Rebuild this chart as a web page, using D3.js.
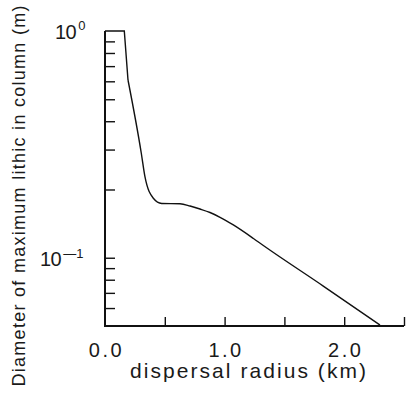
<!DOCTYPE html>
<html>
<head>
<meta charset="utf-8">
<script src="https://cdn.jsdelivr.net/npm/d3@7"></script>
<style>
  html, body { margin: 0; padding: 0; background: #fff; }
  svg text { font-family: "Liberation Sans", Arial, Helvetica, sans-serif; fill: #1a1a1a; }
</style>
</head>
<body>
<svg id="chart" width="406" height="401"></svg>
<script>
// Data
// plateau at 1.0, sharp drop to a kink, then smooth decline
const topDistKm = [0, 0.1614, 0.1923];
const topDiamM  = [1.0, 1.0, 0.608];
const distKm = [0.1923, 0.3035, 0.334, 0.404, 0.474, 0.627, 0.711, 0.794, 0.878, 0.962, 1.073, 1.241, 1.324, 1.825, 2.299];
const diamM  = [0.608, 0.289, 0.2277, 0.183, 0.1736, 0.1730, 0.1691, 0.164, 0.1583, 0.1508, 0.1395, 0.1216, 0.1132, 0.0750, 0.0505];
const xTicks = [0.5, 1.0, 1.5, 2.0, 2.5];
const xTickLabels = [{v: 0.0, t: "0.0"}, {v: 1.0, t: "1.0"}, {v: 2.0, t: "2.0"}];
const yTicks = [0.9, 0.8, 0.7, 0.6, 0.5, 0.4, 0.3, 0.2, 0.1, 0.09, 0.08, 0.07, 0.06];
const yTickLabels = [{v: 1, base: "10", exp: "0", left: 55, dy: 7.7}, {v: 0.1, base: "10", exp: "\u20141", left: 40, dy: 8.7}];
const xTitle = "dispersal radius (km)";
const yTitle = "Diameter of maximum lithic in column (m)";

const svg = d3.select("#chart");
const x = d3.scaleLinear().domain([0, 2.5]).range([105, 404]);
const y = d3.scaleLog().domain([0.05, 1]).range([326, 31]);

// y axis (ticks pointing inward)
const yAxis = d3.axisRight(y).tickValues(yTicks).tickSize(10).tickFormat("");
const gy = svg.append("g").attr("transform", `translate(${x(0)},0)`).call(yAxis);
gy.select(".domain").remove();
gy.selectAll(".tick line").attr("stroke", "#111").attr("stroke-width", 1.4);
svg.append("line").attr("x1", x(0)).attr("x2", x(0)).attr("y1", y(1)).attr("y2", y(0.05))
  .attr("stroke", "#111").attr("stroke-width", 2);

// x axis (ticks pointing up)
const xAxis = d3.axisTop(x).tickValues(xTicks).tickSize(9).tickFormat("");
const gx = svg.append("g").attr("transform", `translate(0,${y(0.05)})`).call(xAxis);
gx.select(".domain").remove();
gx.selectAll(".tick line").attr("stroke", "#111").attr("stroke-width", 1.4);
svg.append("line").attr("x1", x(0) - 1).attr("x2", x(2.5)).attr("y1", y(0.05)).attr("y2", y(0.05))
  .attr("stroke", "#111").attr("stroke-width", 2);

// x tick labels
svg.selectAll("text.xl").data(xTickLabels).join("text")
  .attr("class", "xl")
  .attr("x", d => x(d.v) + 1.5)
  .attr("y", 356.5)
  .attr("text-anchor", "middle")
  .style("font-size", "20px")
  .style("letter-spacing", "2.5px")
  .text(d => d.t);

// y tick labels with superscript
yTickLabels.forEach(d => {
  const t = svg.append("text")
    .attr("x", d.left)
    .attr("y", y(d.v) + d.dy)
    .style("font-size", "20px");
  t.append("tspan").text(d.base).style("letter-spacing", "-0.5px");
  t.append("tspan").attr("dx", 2).attr("dy", -8.7).style("font-size", "13px").text(d.exp);
});

// line: straight top part + smooth remainder
const topLine = d3.line().x((d, i) => x(topDistKm[i])).y(d => y(d)).curve(d3.curveLinear);
const mainLine = d3.line().x((d, i) => x(distKm[i])).y(d => y(d)).curve(d3.curveMonotoneX);
svg.append("path").attr("d", topLine(topDiamM))
  .attr("fill", "none").attr("stroke", "#111").attr("stroke-width", 1.4).attr("stroke-linejoin", "miter");
svg.append("path").attr("d", mainLine(diamM))
  .attr("fill", "none").attr("stroke", "#111").attr("stroke-width", 1.4);

// titles
svg.append("text")
  .attr("x", 248).attr("y", 378)
  .attr("text-anchor", "middle")
  .style("font-size", "21px")
  .attr("textLength", 236).attr("lengthAdjust", "spacing")
  .text(xTitle);

svg.append("text")
  .attr("transform", "translate(25,196) rotate(-90)")
  .attr("text-anchor", "middle")
  .style("font-size", "18px")
  .attr("textLength", 381).attr("lengthAdjust", "spacing")
  .text(yTitle);
</script>
</body>
</html>
